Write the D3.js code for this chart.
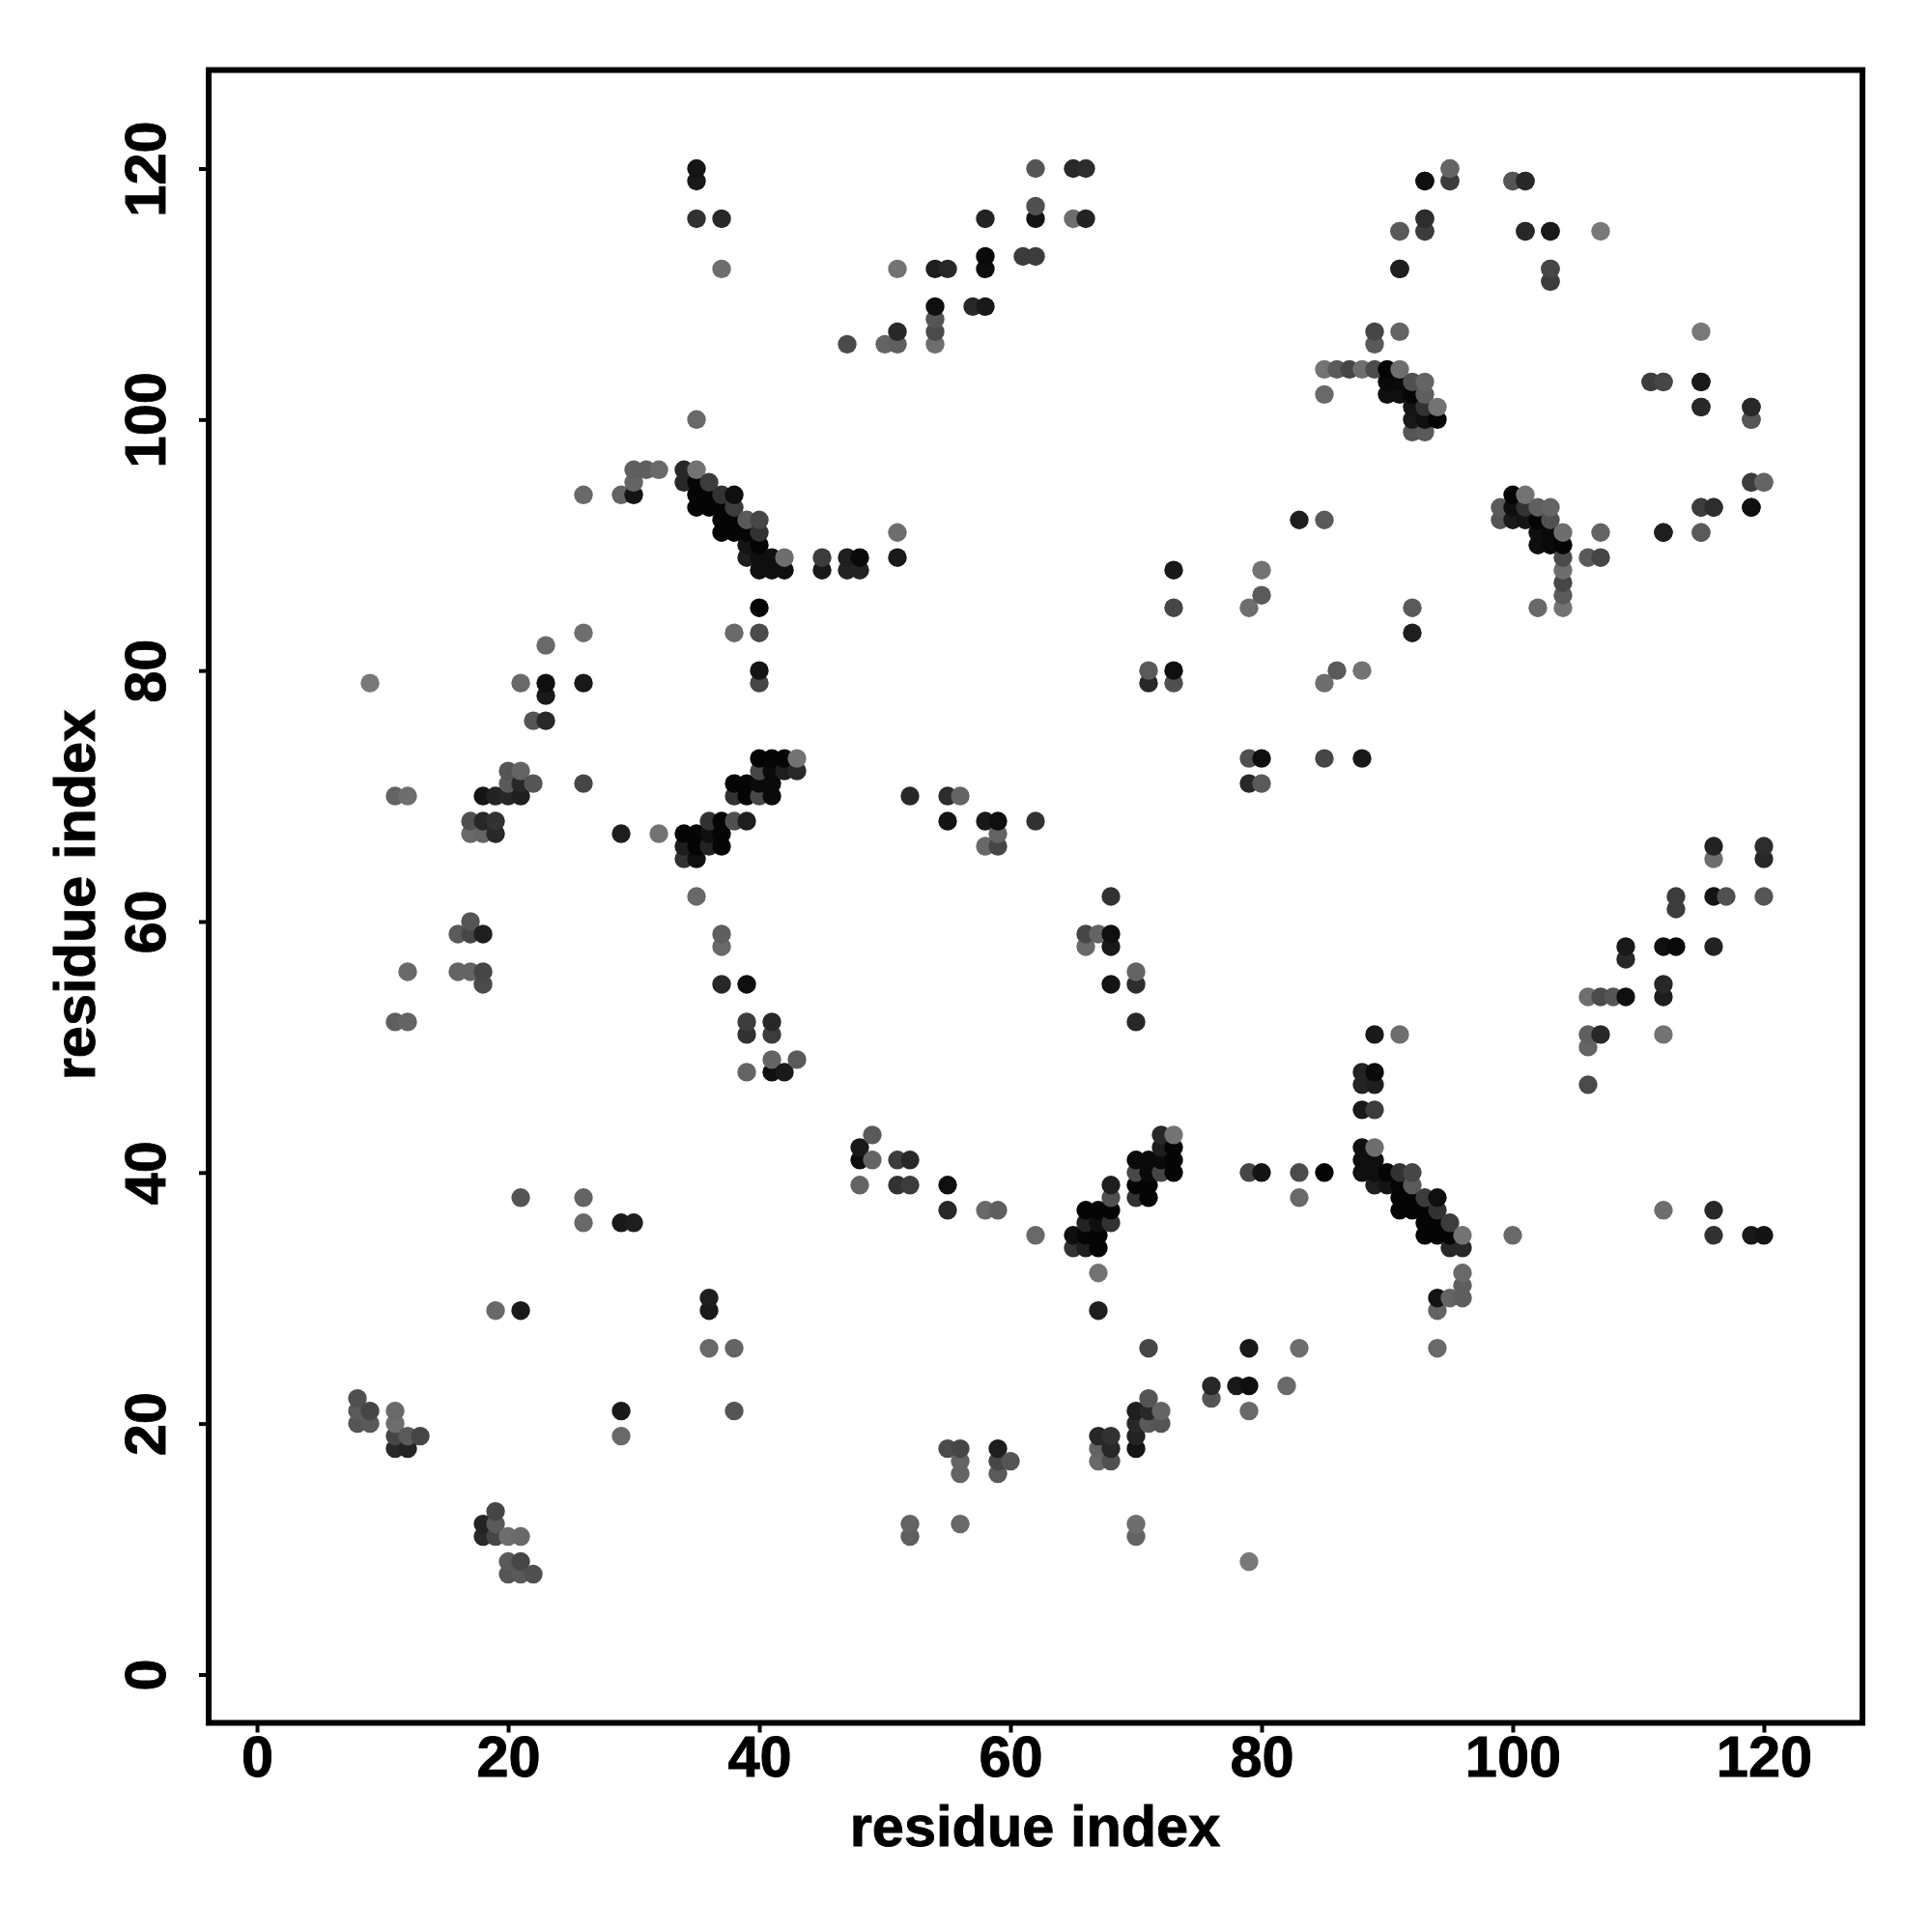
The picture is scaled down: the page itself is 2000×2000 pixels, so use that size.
<!DOCTYPE html>
<html><head><meta charset="utf-8">
<style>html,body{margin:0;background:#fff}svg{display:block}text{font-family:"Liberation Sans",Arial,sans-serif;font-weight:bold;fill:#000;stroke:#000;stroke-width:0.9px}</style>
<script src="https://cdn.jsdelivr.net/npm/d3@7"></script></head><body>
<script>
const tickValues=[0,20,40,60,80,100,120];
const axisTitle="residue index";
// contacts i<j; the map is symmetric. Each row: [i, j, grey level]
const contactsHelixA=[[35,120,20],[35,119,25],[35,116,50],[37,116,40],[37,112,110],[35,100,105],
[30,96,95],[31,96,95],[32,96,105],[34,96,40],[35,96,115],[30,95,100],[34,95,40],[35,95,5],[36,95,60],
[26,94,105],[29,94,100],[30,94,20],[35,94,5],[36,94,5],[37,94,50],[38,94,15],[35,93,5],[36,93,5],[37,93,5],[38,93,60],
[37,92,5],[38,92,5],[39,92,90],[40,92,70],[37,91,5],[38,91,5],[39,91,5],[40,91,50],[51,91,110],[39,90,20],[40,90,5],
[39,89,30],[40,89,15],[41,89,15],[42,89,110],[45,89,60],[47,89,30],[48,89,10],[51,89,25],
[40,88,15],[41,88,15],[42,88,15],[45,88,25],[47,88,35],[48,88,35],[40,85,5],[38,83,105],[40,83,75],[40,80,20],[40,79,70]];
const contactsHelixB=[[9,79,120],[21,79,105],[23,79,15],[26,79,25],[23,78,25],[22,76,85],[23,76,40],[23,82,105],[26,83,110],[26,71,70],
[11,70,100],[12,70,110],[18,70,20],[19,70,35],[20,70,40],[21,70,30],[20,71,90],[21,71,40],[22,71,85],[20,72,85],[21,72,100],
[17,68,80],[18,68,40],[19,68,50],[17,67,105],[18,67,100],[19,67,40],[29,67,30],[32,67,115],
[40,73,5],[41,73,5],[42,73,5],[43,73,115],[40,72,70],[41,72,10],[42,72,30],[43,72,40],
[38,71,5],[39,71,5],[40,71,10],[41,71,10],[38,70,50],[39,70,5],[40,70,72],[41,70,10],
[36,68,50],[37,68,5],[38,68,80],[39,68,30],[34,67,5],[35,67,5],[36,67,15],[37,67,5],
[34,66,30],[35,66,5],[36,66,35],[37,66,5],[34,65,50],[35,65,15]];
const contactsMiddle=[[35,62,105],[37,59,95],[37,58,105],[37,55,40],[39,55,15],[39,52,60],[41,52,40],[39,51,50],[41,51,60],[39,48,100],[41,49,100],[43,49,90],[41,48,15],[42,48,25],
[16,59,90],[17,60,85],[17,59,70],[18,59,30],[16,56,100],[17,56,100],[18,56,70],[18,55,75],[12,56,105],[11,52,95],[12,52,100],
[52,70,40],[55,70,45],[56,70,100],[55,68,20],[58,68,25],[59,68,15],[62,68,50],[58,66,105],[59,66,70],[59,67,100]];
const contactsLow=[[8,22,80],[8,21,90],[8,20,85],[9,21,70],[9,20,90],[11,21,105],[11,20,110],[11,19,70],[11,18,40],[12,19,90],[12,18,35],[13,19,70],
[19,29,105],[21,29,25],[21,38,85],[26,38,100],[26,36,105],[29,36,25],[30,36,30]];
const contactsRightTop=[[62,120,85],[65,120,40],[66,120,45],[62,117,80],[62,116,20],[65,116,110],[66,116,35],[58,116,35],[58,113,10],[58,112,15],[61,113,60],[62,113,60],
[51,112,115],[54,112,30],[55,112,40],[54,109,15],[57,109,40],[58,109,25],[54,108,85],[54,107,75],[54,106,110],[51,107,40],[51,106,95],[50,106,100],[47,106,75],
[93,119,10],[95,120,115],[95,119,85],[93,116,60],[93,115,70],[91,115,85],[91,112,35],[100,119,70],[101,119,40],[101,115,25],[103,115,20],[103,112,60],[103,111,90],[107,115,120],
[89,107,70],[91,107,100],[89,106,90],[111,103,60],[112,103,70],[115,103,25],[115,101,40],[119,101,40],[119,100,85]];
const contactsCluster=[[85,104,115],[86,104,90],[87,104,70],[88,104,110],[89,104,75],[90,104,5],[91,104,110],
[90,103,10],[91,103,10],[92,103,80],[93,103,100],[85,102,105],[90,102,15],[91,102,15],[92,102,5],[93,102,95],
[92,101,20],[93,101,50],[94,101,115],[92,100,25],[93,100,15],[94,100,5],[92,99,85],[93,99,90],
[71,80,90],[73,80,15],[71,79,40],[73,79,80],[73,85,70],[73,88,25],[79,85,110],[80,86,90],[80,88,115],[83,92,30],[85,92,90],
[112,91,30],[115,91,90],[115,93,60],[116,93,45],[119,93,15],[119,95,60],[120,95,100]];

const frame={left:216,right:1928,top:72.5,bottom:1783.5};
const domain=[-3.85,127.85];
const fontSize=59.5;
const x=d3.scaleLinear().domain(domain).range([frame.left,frame.right]);
const y=d3.scaleLinear().domain(domain).range([frame.bottom,frame.top]);
const grey=d3.scaleLinear().domain([0,255]).range(["#000","#fff"]);
const svg=d3.select("body").append("svg").attr("width",2000).attr("height",2000);
svg.append("rect").attr("width",2000).attr("height",2000).attr("fill","#fff");

const upper=[...contactsHelixA,...contactsHelixB,...contactsMiddle,...contactsLow,...contactsRightTop,...contactsCluster];
const points=upper.flatMap(d=>[{x:d[0],y:d[1],g:d[2]},{x:d[1],y:d[0],g:d[2]}]);
points.sort((a,b)=>d3.ascending(a.x,b.x)||d3.ascending(a.y,b.y));
svg.append("g").selectAll("circle").data(points).join("circle")
 .attr("cx",d=>x(d.x)).attr("cy",d=>y(d.y)).attr("r",9.7).attr("fill",d=>grey(d.g));

const ax=svg.append("g").attr("transform",`translate(0,${frame.bottom})`)
 .call(d3.axisBottom(x).tickValues(tickValues).tickSize(10).tickSizeOuter(0).tickPadding(0));
ax.select(".domain").remove();
ax.selectAll(".tick line").attr("stroke","#000").attr("stroke-width",4);
ax.selectAll(".tick text").attr("y",55.5).attr("dy",0).style("font-size",fontSize+"px").style("font-family",'"Liberation Sans"').style("font-weight","bold");
const ay=svg.append("g").attr("transform",`translate(${frame.left},0)`)
 .call(d3.axisLeft(y).tickValues(tickValues).tickSize(10).tickSizeOuter(0).tickPadding(0));
ay.select(".domain").remove();
ay.selectAll(".tick line").attr("stroke","#000").attr("stroke-width",4);
ay.selectAll(".tick text").attr("x",0).attr("dy",0).attr("text-anchor","middle")
 .attr("transform","translate(-45,0) rotate(-90)").style("font-size",fontSize+"px").style("font-family",'"Liberation Sans"').style("font-weight","bold");

svg.append("rect").attr("x",frame.left).attr("y",frame.top).attr("width",frame.right-frame.left).attr("height",frame.bottom-frame.top)
 .attr("fill","none").attr("stroke","#000").attr("stroke-width",6);
svg.append("text").attr("x",1071.5).attr("y",1911).attr("text-anchor","middle").style("font-size",fontSize+"px").text(axisTitle);
svg.append("text").attr("transform",`translate(98,926.5) rotate(-90)`).attr("text-anchor","middle").style("font-size",fontSize+"px").text(axisTitle);
</script></body></html>
